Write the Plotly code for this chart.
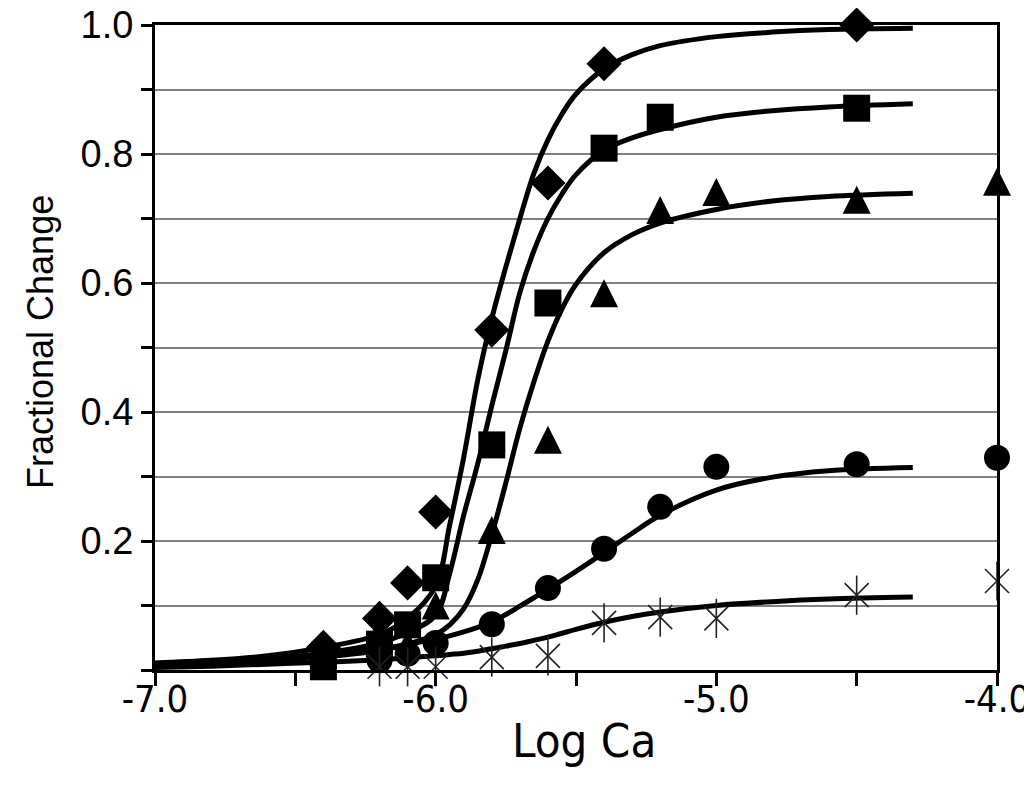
import plotly.graph_objects as go

# ---- measured data points ----
dia_x = [-6.4, -6.2, -6.1, -6.0, -5.8, -5.6, -5.4, -4.5]
dia_y = [0.035, 0.08, 0.135, 0.245, 0.527, 0.755, 0.94, 1.0]

sq_x = [-6.4, -6.2, -6.1, -6.0, -5.8, -5.6, -5.4, -5.2, -4.5]
sq_y = [0.005, 0.04, 0.07, 0.143, 0.349, 0.569, 0.809, 0.857, 0.871]

tri_x = [-6.4, -6.2, -6.1, -6.0, -5.8, -5.6, -5.4, -5.2, -5.0, -4.5, -4.0]
tri_y = [0.035, 0.06, 0.04, 0.10, 0.217, 0.357, 0.584, 0.713, 0.741, 0.729, 0.757]

cir_x = [-6.4, -6.2, -6.1, -6.0, -5.8, -5.6, -5.4, -5.2, -5.0, -4.5, -4.0]
cir_y = [0.005, 0.015, 0.025, 0.042, 0.071, 0.127, 0.188, 0.253, 0.315, 0.319, 0.329]

ast_x = [-6.2, -6.1, -6.0, -5.8, -5.6, -5.4, -5.2, -5.0, -4.5, -4.0]
ast_y = [0.005, 0.005, 0.005, 0.02, 0.022, 0.073, 0.082, 0.08, 0.116, 0.138]

# ---- fitted curves ----
fit_x = [-7.0, -6.8, -6.6, -6.4, -6.2, -6.1, -6.0, -5.95, -5.9, -5.85, -5.8, -5.75,
         -5.7, -5.65, -5.6, -5.55, -5.5, -5.4, -5.3, -5.2, -5.0, -4.8, -4.6, -4.3]
fit_dia = [0.011, 0.015, 0.022, 0.035, 0.055, 0.08, 0.13, 0.225, 0.33, 0.45, 0.545, 0.625,
           0.70, 0.77, 0.822, 0.862, 0.893, 0.932, 0.954, 0.968, 0.982, 0.989, 0.993, 0.995]
fit_sq = [0.009, 0.012, 0.017, 0.026, 0.042, 0.058, 0.085, 0.15, 0.24, 0.32, 0.41, 0.495,
          0.585, 0.65, 0.70, 0.738, 0.768, 0.806, 0.825, 0.838, 0.857, 0.867, 0.873, 0.878]
fit_tri = [0.007, 0.01, 0.014, 0.02, 0.03, 0.04, 0.055, 0.07, 0.095, 0.14, 0.21, 0.29,
           0.375, 0.447, 0.51, 0.56, 0.598, 0.647, 0.675, 0.693, 0.714, 0.727, 0.734, 0.739]
fit_cir = [0.008, 0.012, 0.017, 0.024, 0.033, 0.04, 0.048, 0.053, 0.059, 0.066, 0.074, 0.086,
           0.099, 0.112, 0.125, 0.139, 0.153, 0.182, 0.212, 0.24, 0.279, 0.299, 0.309, 0.314]
fit_ast = [0.004, 0.006, 0.009, 0.012, 0.016, 0.019, 0.022, 0.024, 0.026, 0.029, 0.033, 0.037,
           0.041, 0.046, 0.051, 0.057, 0.063, 0.074, 0.083, 0.09, 0.1, 0.106, 0.11, 0.113]

x_tickvals = [-7.0, -6.5, -6.0, -5.5, -5.0, -4.5, -4.0]
x_ticktext = ["-7.0", "", "-6.0", "", "-5.0", "", "-4.0"]
y_tickvals = [0.0, 0.1, 0.2, 0.3, 0.4, 0.5, 0.6, 0.7, 0.8, 0.9, 1.0]
y_ticktext = ["", "", "0.2", "", "0.4", "", "0.6", "", "0.8", "", "1.0"]
x_title = "Log Ca"
y_title = "Fractional Change"

fig = go.Figure()

for fy in [fit_ast, fit_cir, fit_tri, fit_sq, fit_dia]:
    fig.add_trace(go.Scatter(x=fit_x, y=fy, mode="lines",
                             line=dict(color="black", width=5, shape="spline", smoothing=1.0),
                             cliponaxis=False, hoverinfo="skip"))

fig.add_trace(go.Scatter(x=dia_x, y=dia_y, mode="markers",
                         marker=dict(symbol="diamond", size=27, color="black"), cliponaxis=False))
fig.add_trace(go.Scatter(x=sq_x, y=sq_y, mode="markers",
                         marker=dict(symbol="square", size=27, color="black"), cliponaxis=False))
fig.add_trace(go.Scatter(x=tri_x, y=tri_y, mode="markers",
                         marker=dict(symbol="arrow-down", angle=180, size=28, standoff=14,
                                     color="black"),
                         cliponaxis=False))
fig.add_trace(go.Scatter(x=cir_x, y=cir_y, mode="markers",
                         marker=dict(symbol="circle", size=26, color="black"), cliponaxis=False))
fig.add_trace(go.Scatter(x=ast_x, y=ast_y, mode="markers",
                         marker=dict(symbol="x-thin-open", size=24, color="#222222",
                                     line=dict(color="#222222", width=1.6)), cliponaxis=False))
fig.add_trace(go.Scatter(x=ast_x, y=ast_y, mode="markers",
                         marker=dict(symbol="line-ns-open", size=28, color="#222222",
                                     line=dict(color="#222222", width=1.6)), cliponaxis=False))

font_family = "Liberation Sans, Arial, sans-serif"
narrow_family = "DejaVu Sans Condensed, Liberation Sans, sans-serif"

fig.update_layout(
    width=1024, height=769,
    margin=dict(l=147, r=35, t=17, b=107),
    paper_bgcolor="white", plot_bgcolor="white",
    showlegend=False,
    font=dict(family=font_family, color="black"),
    xaxis=dict(range=[-7.0, -4.0], tickvals=x_tickvals, ticktext=x_ticktext,
               ticks="outside", ticklen=13, tickwidth=3, tickcolor="black",
               showline=True, linewidth=3, linecolor="black", mirror=True,
               showgrid=False, zeroline=False, automargin=False,
               ticklabelstandoff=-20, ticklabeloverflow="allow",
               tickfont=dict(size=38, family=narrow_family)),
    yaxis=dict(range=[0.0, 1.0], tickvals=y_tickvals, ticktext=y_ticktext,
               ticks="outside", ticklen=11, tickwidth=3, tickcolor="black",
               showline=True, linewidth=3, linecolor="black", mirror=True,
               showgrid=True, gridcolor="#808080", gridwidth=2, zeroline=False,
               automargin=False, ticklabeloverflow="allow",
               tickfont=dict(size=38, family=font_family)),
    annotations=[
        dict(text=x_title, xref="paper", yref="paper", x=0.5095, y=-0.11,
             xanchor="center", yanchor="middle", showarrow=False,
             font=dict(size=47, family=narrow_family)),
        dict(text=y_title, xref="paper", yref="paper", x=-0.1366, y=0.5085,
             xanchor="center", yanchor="middle", showarrow=False, textangle=-90,
             font=dict(size=36, family=font_family)),
    ],
)

fig.write_html("out.html")
